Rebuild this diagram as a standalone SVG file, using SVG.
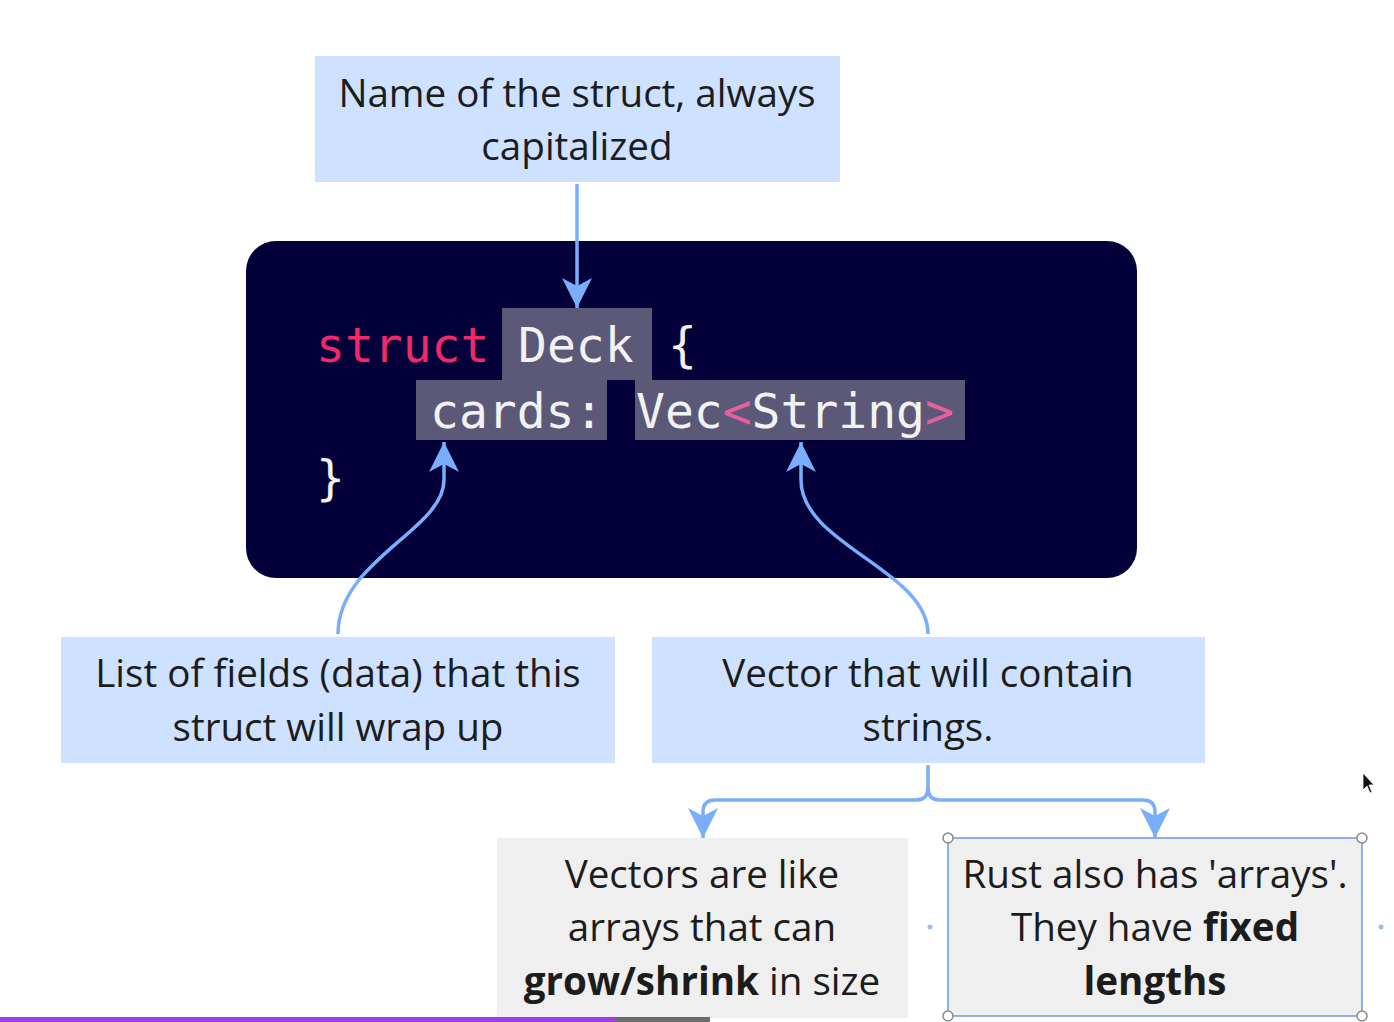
<svg xmlns="http://www.w3.org/2000/svg" width="1394" height="1022" viewBox="0 0 1394 1022">
<defs>
<style>
.lbl{font-family:"Open Sans","Noto Sans",sans-serif;font-size:38.6px;fill:#1c1c1c;text-anchor:middle}
.b{font-weight:bold}
.code{font-family:"DejaVu Sans Mono","Liberation Mono",monospace;font-size:48px;fill:#f2f2f2}
.kw{fill:#f2286a}
.ang{fill:#e8609a}
.conn{fill:none;stroke:#7aaefc;stroke-width:3.5}
.hl{fill:#5c5878}
.blue{fill:#cee1ff}
.grey{fill:#efefef}
</style>
<marker id="av" viewBox="-2 -17 34 34" refX="30" refY="0" markerWidth="34" markerHeight="34" markerUnits="userSpaceOnUse" orient="auto">
<path d="M0,-15 L8,0 L0,15 L30,0 Z" fill="#7aaefc"/>
</marker>
</defs>
<rect width="1394" height="1022" fill="#ffffff"/>

<g id="code-block">
<rect x="246" y="241" width="891" height="337" rx="30" fill="#03003a"/>
<rect class="hl" x="502" y="308" width="150" height="72"/>
<rect class="hl" x="416" y="380" width="191" height="60"/>
<rect class="hl" x="635" y="380" width="330" height="60"/>
<text class="code" x="316" y="362"><tspan class="kw">struct</tspan></text>
<text class="code" x="518" y="362">Deck</text>
<text class="code" x="668" y="362">{</text>
<text class="code" x="430" y="428">cards:</text>
<text class="code" x="636" y="428">Vec<tspan class="ang">&lt;</tspan>String<tspan class="ang">&gt;</tspan></text>
<text class="code" x="316" y="495">}</text>
</g>

<g id="name-note">
<rect class="blue" x="315" y="56" width="525" height="126"/>
<text class="lbl" x="577" y="107">Name of the struct, always</text>
<text class="lbl" x="577" y="160">capitalized</text>
</g>

<g id="fields-note">
<rect class="blue" x="61" y="637" width="554" height="126"/>
<text class="lbl" x="338" y="687">List of fields (data) that this</text>
<text class="lbl" x="338" y="741">struct will wrap up</text>
</g>

<g id="vector-note">
<rect class="blue" x="652" y="637" width="553" height="126"/>
<text class="lbl" x="928" y="687">Vector that will contain</text>
<text class="lbl" x="928" y="741">strings.</text>
</g>

<g id="vectors-like-note">
<rect class="grey" x="497" y="838" width="411" height="180"/>
<text class="lbl" x="702" y="888">Vectors are like</text>
<text class="lbl" x="702" y="941">arrays that can</text>
<text class="lbl" x="702" y="995"><tspan class="b">grow/shrink</tspan> in size</text>
</g>

<g id="arrays-note">
<rect class="grey" x="948" y="838" width="414" height="178"/>
<rect x="948" y="838" width="414" height="178" fill="none" stroke="#6a9be0" stroke-width="1.5"/>
<text class="lbl" x="1155" y="888">Rust also has 'arrays'.</text>
<text class="lbl" x="1155" y="941">They have <tspan class="b">fixed</tspan></text>
<text class="lbl b" x="1155" y="995">lengths</text>
<g fill="#ffffff" stroke="#8a8a8a" stroke-width="1.5">
<circle cx="948" cy="838" r="5"/>
<circle cx="1362" cy="838" r="5"/>
<circle cx="948" cy="1016" r="5"/>
<circle cx="1362" cy="1016" r="5"/>
</g>
<circle cx="930" cy="927" r="2.5" fill="#9dbff0"/>
<circle cx="1381" cy="927" r="2.5" fill="#9dbff0"/>
</g>

<g id="connectors">
<path class="conn" d="M577,184 L577,308" marker-end="url(#av)"/>
<path class="conn" d="M338,634 C338,560 444,530 444,480 L444,442" marker-end="url(#av)"/>
<path class="conn" d="M928,634 C928,570 801,545 801,480 L801,442" marker-end="url(#av)"/>
<path class="conn" d="M928,765 L928,788 Q928,800 916,800 L715,800 Q703,800 703,812 L703,838" marker-end="url(#av)"/>
<path class="conn" d="M928,788 Q928,800 940,800 L1143,800 Q1155,800 1155,812 L1155,838" marker-end="url(#av)"/>
</g>

<g id="screen-ui">
<rect x="0" y="1017" width="615" height="5" fill="#a838f0"/>
<rect x="615" y="1017" width="95" height="5" fill="#6b6e70"/>
<path d="M1363,773 L1363,790 L1367,786 L1370,793 L1372,792 L1369,785 L1374,785 Z" fill="#111111" stroke="#ffffff" stroke-width="0.8"/>
</g>
</svg>
